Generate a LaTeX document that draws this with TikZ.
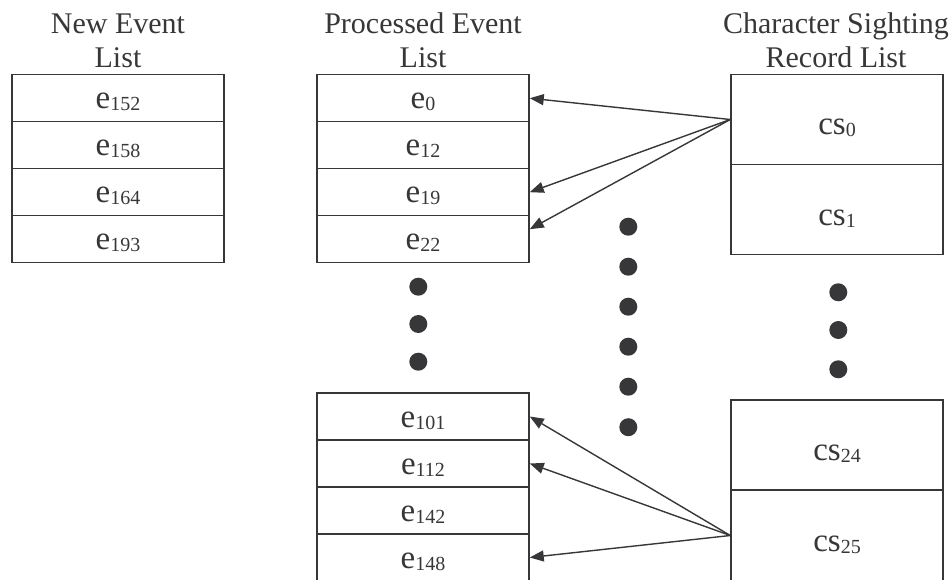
\documentclass[tikz,border=0pt]{standalone}
\usepackage{fontspec}
\setmainfont{Liberation Serif}
\usetikzlibrary{arrows.meta}
\definecolor{ink}{RGB}{55,55,58}
% index number set small, just under the baseline
\newcommand\idx[1]{\raisebox{-2pt}{\fontsize{20}{20}\selectfont #1}}

\begin{document}
\begin{tikzpicture}[x=1pt,y=-1pt,
  ecell/.style={draw=ink, line width=1.5pt, minimum width=212pt, minimum height=47pt,
                inner sep=0pt, text height=21pt, text depth=0pt,
                font=\fontsize{33}{33}\selectfont, text=ink},
  cscell/.style={ecell, minimum height=90pt, text height=31pt},
  title/.style={anchor=base, inner sep=0pt, font=\fontsize{30}{30}\selectfont, text=ink},
  dot/.style={circle, fill=ink, inner sep=0pt, minimum size=18pt},
  link/.style={draw=ink, line width=1.4pt, -{Triangle[length=14pt,width=11pt]}}]

\useasboundingbox (0,0) rectangle (952,580);
\clip (0,0) rectangle (952,580);

% column titles
\node[title] (tn1) at (118,33.5) {New Event};
\node[title] (tn2) at (118,67.5) {List};
\node[title] (tp1) at (423,33.5) {Processed Event};
\node[title] (tp2) at (423,67.5) {List};
\node[title] (tc1) at (836,33.5) {Character Sighting};
\node[title] (tc2) at (836,67.5) {Record List};

% new event list
\node[ecell] (e152) at (118,98.2)  {e\idx{152}};
\node[ecell] (e158) at (118,145.2) {e\idx{158}};
\node[ecell] (e164) at (118,192.2) {e\idx{164}};
\node[ecell] (e193) at (118,239.2) {e\idx{193}};

% processed event list, upper part
\node[ecell] (e0)  at (423,98.2)  {e\idx{0}};
\node[ecell] (e12) at (423,145.2) {e\idx{12}};
\node[ecell] (e19) at (423,192.2) {e\idx{19}};
\node[ecell] (e22) at (423,239.2) {e\idx{22}};

% processed event list, lower part
\node[ecell] (e101) at (423,416.5) {e\idx{101}};
\node[ecell] (e112) at (423,463.5) {e\idx{112}};
\node[ecell] (e142) at (423,510.5) {e\idx{142}};
\node[ecell] (e148) at (423,557.5) {e\idx{148}};

% character sighting records
\node[cscell] (cs0)  at (837,119.5) {cs\idx{0}};
\node[cscell] (cs1)  at (837,209.5) {cs\idx{1}};
\node[cscell] (cs24) at (837,445)   {cs\idx{24}};
\node[cscell] (cs25) at (837,535.5) {cs\idx{25}};

% ellipsis dots
\foreach \y [count=\i] in {286.7,324,361.7}
  \node[dot] (dl\i) at (418.3,\y) {};
\foreach \y [count=\i] in {226.7,266.7,306.7,346.7,386.7,427.2}
  \node[dot] (dm\i) at (628.3,\y) {};
\foreach \y [count=\i] in {292.3,330,369.3}
  \node[dot] (dr\i) at (838.3,\y) {};

% references from sighting records to events
\draw[link] (cs0.west) -- (e0.east);
\draw[link] (cs0.west) -- (e19.east);
\draw[link] (cs0.west) -- ([yshift=10pt]e22.east);
\draw[link] (cs25.west) -- (e101.east);
\draw[link] (cs25.west) -- (e112.east);
\draw[link] (cs25.west) -- (e148.east);
\end{tikzpicture}
\end{document}
